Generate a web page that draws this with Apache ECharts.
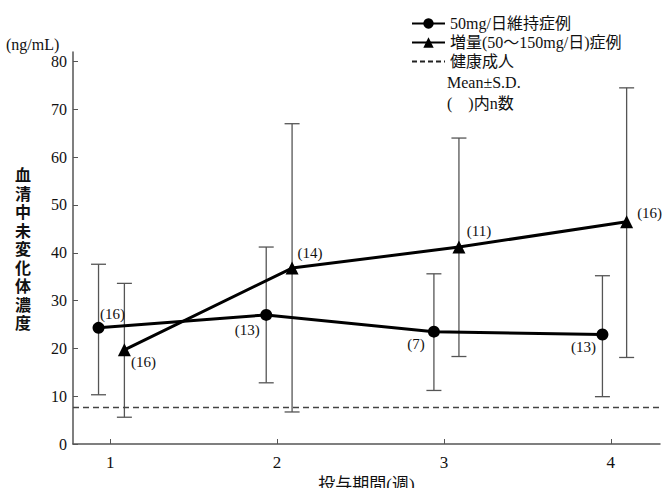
<!DOCTYPE html>
<html>
<head>
<meta charset="utf-8">
<script src="https://cdn.jsdelivr.net/npm/echarts@6/dist/echarts.min.js"></script>
<style>
    html, body { margin: 0; padding: 0; background: #fff; }
    #chart { width: 663px; height: 488px; }
</style>
</head>
<body>
<div id="chart"></div>
<script>
    // 投与期間(週)
    var weekTicks = [1, 2, 3, 4];
    var yTicks = [0, 10, 20, 30, 40, 50, 60, 70, 80];

    // 50mg/日維持症例
    var maintWeek = [0.93, 1.935, 2.94, 3.95];
    var maintMean = [24.3, 27.0, 23.5, 22.9];
    var maintLow = [10.3, 12.8, 11.2, 9.9];
    var maintHigh = [37.6, 41.2, 35.6, 35.2];
    var maintN = [16, 13, 7, 13];

    // 増量(50〜150mg/日)症例
    var incWeek = [1.085, 2.09, 3.09, 4.095];
    var incMean = [19.7, 36.8, 41.2, 46.5];
    var incLow = [5.6, 6.7, 18.3, 18.1];
    var incHigh = [33.6, 67.0, 64.0, 74.5];
    var incN = [16, 14, 11, 16];

    // 健康成人
    var healthyMean = 7.7;

    // where the (n) labels sit, relative to the point
    var maintLabelOffset = [[14, -14], [-19, 15], [-18, 12], [-19, 12]];
    var incLabelOffset = [[19, 12], [18, -15], [20, -16], [23, -9]];

    var serif = "'Liberation Serif', 'Noto Sans CJK JP', serif";
    var gothic = "'Noto Sans CJK JP', sans-serif";

    function pointData(xs, ys, ns, offsets) {
        return xs.map(function (x, i) {
            return {
                value: [x, ys[i]],
                label: {
                    show: true,
                    formatter: '(' + ns[i] + ')',
                    position: 'inside',
                    offset: offsets[i],
                    color: '#111',
                    fontSize: 15,
                    fontFamily: serif
                }
            };
        });
    }

    function barData(xs, lows, highs) {
        return xs.map(function (x, i) {
            return [x, lows[i], highs[i]];
        });
    }

    // 誤差棒 (Mean±S.D.)
    function errorBar(params, api) {
        var x = api.value(0);
        var lo = api.coord([x, api.value(1)]);
        var hi = api.coord([x, api.value(2)]);
        var w = 7.5;
        var st = { stroke: '#555', lineWidth: 1.3 };
        return {
            type: 'group',
            children: [
                { type: 'line', shape: { x1: lo[0], y1: lo[1], x2: hi[0], y2: hi[1] }, style: st },
                { type: 'line', shape: { x1: hi[0] - w, y1: hi[1], x2: hi[0] + w, y2: hi[1] }, style: st },
                { type: 'line', shape: { x1: lo[0] - w, y1: lo[1], x2: lo[0] + w, y2: lo[1] }, style: st }
            ]
        };
    }

    var axisLine = { lineStyle: { color: '#555', width: 1.5 } };

    var option = {
        animation: false,
        grid: { left: 73, right: 3, top: 52, bottom: 44, outerBoundsMode: 'none' },
        legend: {
            orient: 'vertical',
            left: 406,
            top: 10,
            itemWidth: 33,
            itemHeight: 13,
            itemGap: 2,
            textStyle: { fontSize: 16, color: '#111', fontFamily: serif, lineHeight: 17 },
            data: [
                '50mg/日維持症例',
                '増量(50〜150mg/日)症例',
                { name: '健康成人', itemStyle: { opacity: 0 } }
            ]
        },
        xAxis: {
            type: 'value',
            min: 0.777,
            max: 4.295,
            name: '投与期間(週)',
            nameLocation: 'middle',
            nameGap: 25,
            nameTextStyle: { fontSize: 17, color: '#111', fontFamily: serif, verticalAlign: 'top' },
            axisLine: axisLine,
            axisTick: { inside: true, length: 5, lineStyle: { color: '#555' }, customValues: weekTicks },
            axisLabel: { customValues: weekTicks, fontSize: 17, color: '#111', fontFamily: serif, margin: 10 },
            splitLine: { show: false }
        },
        yAxis: {
            type: 'value',
            min: 0,
            max: 82,
            axisLine: axisLine,
            axisTick: { inside: true, length: 5, lineStyle: { color: '#555' }, customValues: yTicks },
            axisLabel: { customValues: yTicks, fontSize: 16, color: '#111', fontFamily: serif, margin: 6 },
            splitLine: { show: false }
        },
        graphic: [
            {
                type: 'text', left: 6, top: 36,
                style: { text: '(ng/mL)', font: '16px ' + serif, fill: '#111' }
            },
            {
                type: 'text', x: 23, y: 248,
                style: {
                    text: '血\n清\n中\n未\n変\n化\n体\n濃\n度',
                    font: 'bold 16px ' + gothic, fill: '#111',
                    lineHeight: 18.5, align: 'center', verticalAlign: 'middle'
                }
            },
            {
                type: 'text', left: 447, top: 74,
                style: { text: 'Mean±S.D.', font: '16px ' + serif, fill: '#111' }
            },
            {
                type: 'text', left: 447, top: 95,
                style: { text: '(　)内n数', font: '16px ' + serif, fill: '#111' }
            }
        ],
        series: [
            {
                type: 'custom', name: 'sd1', renderItem: errorBar, z: 1,
                encode: { x: 0, y: [1, 2] },
                data: barData(maintWeek, maintLow, maintHigh)
            },
            {
                type: 'custom', name: 'sd2', renderItem: errorBar, z: 1,
                encode: { x: 0, y: [1, 2] },
                data: barData(incWeek, incLow, incHigh)
            },
            {
                name: '50mg/日維持症例',
                type: 'line',
                symbol: 'circle',
                symbolSize: 12,
                z: 3,
                lineStyle: { color: '#000', width: 3 },
                itemStyle: { color: '#000' },
                data: pointData(maintWeek, maintMean, maintN, maintLabelOffset)
            },
            {
                name: '増量(50〜150mg/日)症例',
                type: 'line',
                symbol: 'triangle',
                symbolSize: 13,
                z: 3,
                lineStyle: { color: '#000', width: 3 },
                itemStyle: { color: '#000' },
                data: pointData(incWeek, incMean, incN, incLabelOffset)
            },
            {
                name: '健康成人',
                type: 'line',
                symbol: 'none',
                lineStyle: { color: '#222', width: 2, type: [5, 3] },
                itemStyle: { color: '#222' },
                data: [],
                markLine: {
                    silent: true,
                    symbol: 'none',
                    label: { show: false },
                    lineStyle: { color: '#444', width: 1.3, type: [6, 4] },
                    data: [{ yAxis: healthyMean }]
                }
            }
        ]
    };

    var myChart = echarts.init(document.getElementById('chart'), null, { renderer: 'svg' });
    myChart.setOption(option);
</script>
</body>
</html>
